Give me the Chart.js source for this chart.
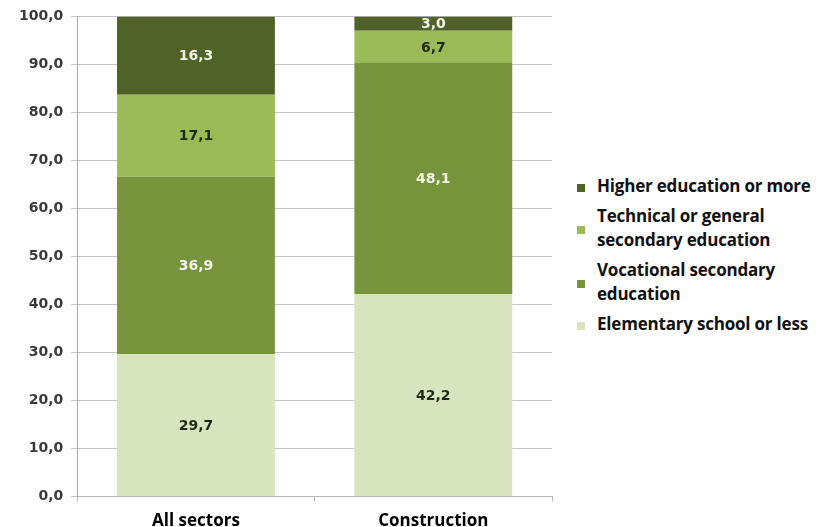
<!DOCTYPE html>
<html lang="en">
  <head>
    <meta charset="UTF-8" />
    <title>Education level by sector</title>
    <script src="https://cdn.jsdelivr.net/npm/chart.js"></script>
    <style>
      body {
        margin: 0;
        background: #ffffff;
      }

      #wrap {
        position: relative;
        width: 834px;
        height: 527px;
        overflow: hidden;
      }

      #chart-box {
        position: absolute;
        left: 0;
        top: 0;
        width: 560px;
        height: 540px;
      }

      #legend {
        position: absolute;
        left: 577px;
        top: 174px;
        font-family: "Open Sans", sans-serif;
        font-weight: bold;
        font-size: 17px;
        line-height: 24px;
        letter-spacing: -0.2px;
        color: #111111;
      }

      .legend-item {
        position: relative;
        padding-left: 20px;
        margin-bottom: 6px;
        white-space: nowrap;
      }

      .legend-item span.box {
        position: absolute;
        left: 0;
        top: 50%;
        width: 8px;
        height: 8px;
        margin-top: -2px;
      }
    </style>
  </head>

  <body>
    <div id="wrap">
      <div id="chart-box">
        <canvas id="eduChart"></canvas>
      </div>
      <div id="legend"></div>
    </div>

    <script>
      // Share of workers by education level (%)
      const sectors = ["All sectors", "Construction"];
      const levelNames = [
        "Elementary school or less",
        "Vocational secondary education",
        "Technical or general secondary education",
        "Higher education or more",
      ];
      const legendLines = [
        ["Elementary school or less"],
        ["Vocational secondary", "education"],
        ["Technical or general", "secondary education"],
        ["Higher education or more"],
      ];
      const elementary = [29.7, 42.2];
      const vocational = [36.9, 48.1];
      const technical = [17.1, 6.7];
      const higher = [16.3, 3.0];
      const yTicks = [0, 10, 20, 30, 40, 50, 60, 70, 80, 90, 100];

      const fills = ["#d7e4bd", "#77933c", "#9bbb59", "#4f6228"];
      const labelColors = ["#1f2a12", "#f2f5e8", "#1f2a12", "#f2f5e8"];
      const seriesValues = [elementary, vocational, technical, higher];

      const fmt = (v) => v.toFixed(1).replace(".", ",");

      // writes the value in the middle of each stacked segment
      const segmentLabels = {
        id: "segmentLabels",
        afterDatasetsDraw(chart) {
          const ctx = chart.ctx;
          ctx.save();
          ctx.font = "bold 14px 'DejaVu Sans'";
          ctx.textAlign = "center";
          ctx.textBaseline = "middle";
          chart.data.datasets.forEach((ds, i) => {
            const meta = chart.getDatasetMeta(i);
            meta.data.forEach((bar, j) => {
              const mid = (bar.y + bar.base) / 2;
              ctx.fillStyle = labelColors[i];
              ctx.fillText(fmt(ds.data[j]), bar.x, mid + 1);
            });
          });
          ctx.restore();
        },
      };

      const ctx = document.getElementById("eduChart").getContext("2d");
      new Chart(ctx, {
        type: "bar",
        data: {
          labels: sectors,
          datasets: seriesValues.map((vals, i) => ({
            label: levelNames[i],
            data: vals,
            backgroundColor: fills[i],
            borderWidth: 0,
            categoryPercentage: 1,
            barPercentage: 0.665,
          })),
        },
        options: {
          responsive: true,
          maintainAspectRatio: false,
          animation: false,
          layout: {
            padding: { left: 11, right: 8, top: 9, bottom: 0 },
          },
          plugins: {
            legend: { display: false },
            tooltip: { enabled: false },
          },
          scales: {
            x: {
              stacked: true,
              grid: {
                drawOnChartArea: false,
                drawTicks: true,
                tickLength: 5,
                color: "#b8b8b8",
              },
              border: { color: "#b8b8b8" },
              ticks: {
                padding: 9,
                color: "#000000",
                font: { family: "Open Sans", weight: "bold", size: 17 },
              },
            },
            y: {
              stacked: true,
              min: 0,
              max: 100,
              afterBuildTicks(axis) {
                axis.ticks = yTicks.map((v) => ({ value: v }));
              },
              grid: {
                color: "#c4c4c4",
                tickLength: 6,
              },
              border: { color: "#a8a8a8" },
              ticks: {
                padding: 8,
                color: "#3a3a3a",
                font: { family: "DejaVu Sans", weight: "bold", size: 14 },
                callback: (v) => fmt(v),
              },
            },
          },
        },
        plugins: [segmentLabels],
      });

      // legend on the right, top entry is the top segment
      const legendEl = document.getElementById("legend");
      for (let i = levelNames.length - 1; i >= 0; i--) {
        const item = document.createElement("div");
        item.className = "legend-item";
        const box = document.createElement("span");
        box.className = "box";
        box.style.background = fills[i];
        item.appendChild(box);
        item.innerHTML += legendLines[i].join("<br>");
        legendEl.appendChild(item);
      }
    </script>
  </body>
</html>
